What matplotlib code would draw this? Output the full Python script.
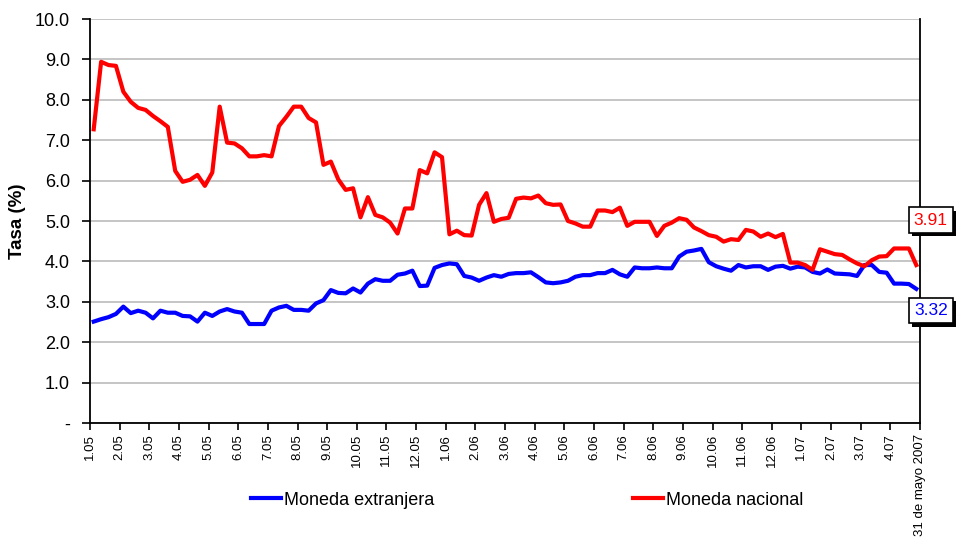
import numpy as np
import matplotlib
matplotlib.use("Agg")
import matplotlib.pyplot as plt
from matplotlib import patheffects as pe
from matplotlib.transforms import blended_transform_factory

plt.rcParams['font.family'] = ['Liberation Sans', 'DejaVu Sans']

# ---- data ----
moneda_nacional = [
    7.27, 8.94, 8.86, 8.84, 8.20, 7.95, 7.80, 7.75, 7.60, 7.47, 7.33, 6.24, 5.97, 6.02, 6.14, 5.87,
    6.20, 7.83, 6.94, 6.92, 6.80, 6.60, 6.60, 6.63, 6.60, 7.35, 7.58, 7.83, 7.83, 7.55, 7.44, 6.39,
    6.47, 6.03, 5.77, 5.81, 5.09, 5.59, 5.15, 5.09, 4.96, 4.69, 5.31, 5.31, 6.26, 6.18, 6.70, 6.58,
    4.67, 4.76, 4.65, 4.64, 5.40, 5.69, 4.98, 5.05, 5.08, 5.55, 5.58, 5.56, 5.63, 5.44, 5.40, 5.41,
    5.00, 4.94, 4.86, 4.86, 5.26, 5.26, 5.22, 5.33, 4.88, 4.98, 4.98, 4.98, 4.63, 4.88, 4.96, 5.07,
    5.03, 4.84, 4.75, 4.65, 4.61, 4.49, 4.55, 4.53, 4.78, 4.74, 4.61, 4.69, 4.60, 4.68, 3.97, 3.97,
    3.91, 3.79, 4.30, 4.24, 4.18, 4.16, 4.05, 3.95, 3.88, 4.03, 4.12, 4.13, 4.32, 4.32, 4.32, 3.91,
]
moneda_extranjera = [
    2.51, 2.57, 2.62, 2.70, 2.88, 2.72, 2.78, 2.73, 2.59, 2.78, 2.73, 2.73, 2.65, 2.64, 2.51, 2.73,
    2.65, 2.76, 2.82, 2.76, 2.73, 2.45, 2.45, 2.45, 2.78, 2.86, 2.90, 2.80, 2.80, 2.78, 2.96, 3.04,
    3.29, 3.22, 3.21, 3.33, 3.23, 3.45, 3.56, 3.52, 3.52, 3.67, 3.70, 3.77, 3.39, 3.40, 3.84, 3.91,
    3.95, 3.93, 3.64, 3.60, 3.52, 3.60, 3.66, 3.62, 3.69, 3.71, 3.71, 3.73, 3.61, 3.48, 3.46, 3.48,
    3.52, 3.62, 3.66, 3.66, 3.71, 3.71, 3.79, 3.68, 3.62, 3.85, 3.83, 3.83, 3.85, 3.83, 3.83, 4.12,
    4.24, 4.27, 4.31, 3.98, 3.88, 3.82, 3.77, 3.91, 3.85, 3.88, 3.88, 3.79, 3.87, 3.89, 3.82, 3.87,
    3.85, 3.74, 3.70, 3.80, 3.70, 3.69, 3.68, 3.64, 3.91, 3.91, 3.74, 3.72, 3.45, 3.45, 3.44, 3.32,
]
month_labels = [f"{m}.{y}" for y in ("05", "06") for m in range(1, 13)] + \
               [f"{m}.07" for m in range(1, 5)]
last_label = "31 de mayo 2007"
y_ticks = [0, 1, 2, 3, 4, 5, 6, 7, 8, 9, 10]

# ---- figure ----
fig = plt.figure(figsize=(9.57, 5.38), dpi=100)
ax = fig.add_axes([90/957, 1-423/538, 830/957, 404/538])

n = len(moneda_nacional)
x = np.arange(n) + 0.5
ax.plot(x, moneda_extranjera, color='#0000ff', lw=3, label='Moneda extranjera', zorder=3)
ax.plot(x, moneda_nacional, color='#ff0000', lw=3, label='Moneda nacional', zorder=3)

ax.set_xlim(0, n)
ax.set_ylim(0, 10)

tick_pos = list(range(0, 4*len(month_labels), 4)) + [n]
ax.set_xticks(tick_pos)
ax.set_xticklabels(month_labels + [last_label], rotation=90, fontsize=9.5)
ax.set_yticks(y_ticks)
ax.set_yticklabels(['-' if v == 0 else f"{v:.1f}" for v in y_ticks], fontsize=13)
ax.tick_params(axis='x', direction='out', length=5, width=1.2, color='black', pad=3)
ax.tick_params(axis='y', direction='out', length=5.5, width=1.2, color='black', pad=9)

ax.grid(axis='y', color='#c0c0c0', lw=1.3, zorder=0)
ax.set_axisbelow(True)
ax.spines['top'].set_visible(False)
for s in ('left', 'bottom', 'right'):
    ax.spines[s].set_linewidth(1.3)
    ax.spines[s].set_color('black')

ax.set_ylabel('Tasa (%)', fontsize=13.5, fontweight='bold', labelpad=6)

# end-value labels
trans = blended_transform_factory(ax.transAxes, ax.transData)
for val, col, ypos in ((moneda_nacional[-1], '#ff0000', 5.02),
                       (moneda_extranjera[-1], '#0000ff', 2.78)):
    t = ax.text(1.013, ypos, f"{val:.2f}", transform=trans, color=col, fontsize=12.5,
                ha='center', va='center', clip_on=False, zorder=5,
                bbox=dict(boxstyle='square,pad=0.3', fc='white', ec='black', lw=1.2))
    t.get_bbox_patch().set_path_effects([
        pe.SimplePatchShadow(offset=(2.5, -2.5), shadow_rgbFace='black', alpha=1.0),
        pe.Normal()])

fig.legend(loc='center', bbox_to_anchor=(0.551, 0.0706), ncol=2, frameon=False,
           fontsize=13, handlelength=1.67, handletextpad=0.17, columnspacing=11.0)

fig.savefig('out.png', dpi=100)
